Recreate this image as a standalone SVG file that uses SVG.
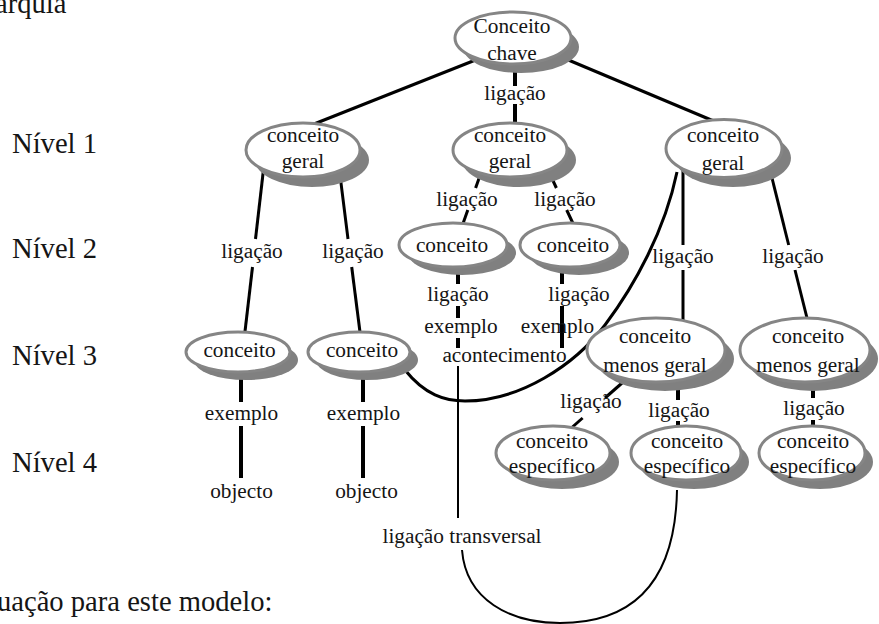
<svg xmlns="http://www.w3.org/2000/svg" width="879" height="624" viewBox="0 0 879 624" font-family="'Liberation Serif', 'Times New Roman', serif">
  <defs>
    <style>
      text { font-family: "Liberation Serif", "Times New Roman", serif; fill: #151515; }
      .node { font-size: 21.3px; text-anchor: middle; }
      .lbl { font-size: 21.3px; text-anchor: middle; }
      .lvl { font-size: 28.6px; }
      .shadow { fill: #808080; }
      .shape { fill: #ffffff; stroke: #858585; stroke-width: 3; }
      .edge { stroke: #000; stroke-width: 3; fill: none; stroke-linecap: butt; }
      .thick { stroke-width: 4; }
      .cross { stroke: #000; stroke-width: 3; fill: none; }
      .thin { stroke-width: 2; }
    </style>
  </defs>
  <rect width="879" height="624" fill="#ffffff"/>

  <!-- page text around the figure -->
  <text class="lvl" x="-5" y="13">arquia</text>
  <text class="lvl" x="-3" y="611">uação para este modelo:</text>

  <!-- hierarchy levels -->
  <g id="levels">
    <text class="lvl" x="12" y="153">Nível 1</text>
    <text class="lvl" x="12" y="258">Nível 2</text>
    <text class="lvl" x="12" y="365">Nível 3</text>
    <text class="lvl" x="12" y="472">Nível 4</text>
  </g>

  <!-- connectors (drawn beneath the nodes) -->
  <g id="connectors">
    <!-- key concept to level 1 -->
    <line class="edge" x1="478" y1="59" x2="314" y2="124"/>
    <line class="edge" x1="566" y1="59" x2="716" y2="122"/>
    <line class="edge thick" x1="515" y1="60" x2="515" y2="86"/>
    <line class="edge thick" x1="515" y1="104" x2="515" y2="130"/>

    <!-- left general concept -->
    <line class="edge" x1="264" y1="165" x2="255.5" y2="239"/>
    <line class="edge" x1="252.5" y1="267" x2="244" y2="340"/>
    <line class="edge" x1="340" y1="175" x2="348" y2="239"/>
    <line class="edge" x1="351.7" y1="267" x2="361" y2="340"/>

    <!-- middle general concept -->
    <line class="edge" x1="482" y1="170" x2="475.6" y2="188"/>
    <line class="edge" x1="467.8" y1="210" x2="460" y2="232"/>
    <line class="edge" x1="548" y1="170" x2="556.4" y2="188"/>
    <line class="edge" x1="566.7" y1="210" x2="577" y2="232"/>

    <!-- right general concept -->
    <line class="edge" x1="683" y1="165" x2="683" y2="245"/>
    <line class="edge" x1="683" y1="270" x2="683" y2="330"/>
    <line class="edge" x1="770" y1="170" x2="788.7" y2="245"/>
    <line class="edge" x1="795" y1="270" x2="810" y2="330"/>

    <!-- level 2 concepts -->
    <line class="edge thick" x1="458" y1="260" x2="458" y2="284"/>
    <line class="edge thick" x1="458" y1="306" x2="458" y2="318"/>
    <line class="edge thick" x1="458" y1="338" x2="458" y2="348"/>
    <line class="edge thin" x1="458" y1="366" x2="458" y2="518"/>
    <line class="edge thick" x1="562" y1="260" x2="562" y2="284"/>
    <line class="edge thick" x1="562" y1="306" x2="562" y2="348"/>

    <!-- level 3 left concepts -->
    <line class="edge thick" x1="241" y1="370" x2="241" y2="402"/>
    <line class="edge thick" x1="241" y1="426" x2="241" y2="478"/>
    <line class="edge thick" x1="363" y1="370" x2="363" y2="402"/>
    <line class="edge thick" x1="363" y1="426" x2="363" y2="478"/>

    <!-- level 3 right concepts -->
    <line class="edge" x1="630" y1="376" x2="605" y2="398"/>
    <line class="edge" x1="582.6" y1="418" x2="560" y2="438"/>
    <line class="edge thick" x1="678" y1="375" x2="678" y2="400"/>
    <line class="edge thick" x1="678" y1="421" x2="678" y2="440"/>
    <line class="edge thick" x1="813" y1="375" x2="813" y2="398"/>
    <line class="edge thick" x1="813" y1="420" x2="813" y2="440"/>

    <!-- cross links -->
    <path class="cross" d="M405,370 C425,395 445,401 465,401 C520,401 575,365 605,325 C635,285 665,230 677,172"/>
    <path class="cross thin" d="M462,550 C466,600 510,623 560,623 C615,623 675,600 677,490"/>
  </g>

  <!-- connector labels -->
  <g id="labels">
    <text class="lbl" x="515" y="100">ligação</text>
    <text class="lbl" x="252" y="258">ligação</text>
    <text class="lbl" x="353" y="258">ligação</text>
    <text class="lbl" x="467" y="206">ligação</text>
    <text class="lbl" x="565" y="206">ligação</text>
    <text class="lbl" x="683" y="263">ligação</text>
    <text class="lbl" x="793" y="263">ligação</text>
    <text class="lbl" x="458" y="301">ligação</text>
    <text class="lbl" x="461" y="333">exemplo</text>
    <text class="lbl" x="504.5" y="362">acontecimento</text>
    <text class="lbl" x="579" y="301">ligação</text>
    <text class="lbl" x="557.5" y="333">exemplo</text>
    <text class="lbl" x="241.5" y="420">exemplo</text>
    <text class="lbl" x="363.5" y="420">exemplo</text>
    <text class="lbl" x="241.5" y="498">objecto</text>
    <text class="lbl" x="366.5" y="498">objecto</text>
    <text class="lbl" x="591" y="408">ligação</text>
    <text class="lbl" x="679" y="417">ligação</text>
    <text class="lbl" x="814" y="415">ligação</text>
    <text class="lbl" x="462" y="543">ligação transversal</text>
  </g>

  <!-- nodes -->
  <g id="n-root">
    <ellipse class="shadow" cx="521" cy="47" rx="58" ry="26"/>
    <ellipse class="shape" cx="513" cy="38" rx="58" ry="26"/>
    <text class="node" x="512" y="33">Conceito</text>
    <text class="node" x="512" y="60">chave</text>
  </g>

  <g id="n-geral-left">
    <ellipse class="shadow" cx="312" cy="160" rx="57" ry="27"/>
    <ellipse class="shape" cx="303" cy="150" rx="57" ry="27"/>
    <text class="node" x="303" y="142">conceito</text>
    <text class="node" x="303" y="168">geral</text>
  </g>

  <g id="n-geral-mid">
    <ellipse class="shadow" cx="519" cy="160" rx="57" ry="27"/>
    <ellipse class="shape" cx="510" cy="150" rx="57" ry="27"/>
    <text class="node" x="510" y="142">conceito</text>
    <text class="node" x="510" y="168">geral</text>
  </g>

  <g id="n-geral-right">
    <ellipse class="shadow" cx="733" cy="158" rx="58" ry="29"/>
    <ellipse class="shape" cx="724" cy="148.5" rx="58" ry="29"/>
    <text class="node" x="723" y="142">conceito</text>
    <text class="node" x="723" y="170">geral</text>
  </g>

  <g id="n-l2-a">
    <ellipse class="shadow" cx="462" cy="253" rx="54" ry="22"/>
    <ellipse class="shape" cx="453" cy="245" rx="54" ry="22"/>
    <text class="node" x="452" y="252">conceito</text>
  </g>

  <g id="n-l2-b">
    <ellipse class="shadow" cx="579" cy="253" rx="50" ry="22"/>
    <ellipse class="shape" cx="570" cy="245" rx="50" ry="22"/>
    <text class="node" x="573" y="252">conceito</text>
  </g>

  <g id="n-l3-a">
    <ellipse class="shadow" cx="246" cy="360" rx="52" ry="20"/>
    <ellipse class="shape" cx="238" cy="352" rx="52" ry="20"/>
    <text class="node" x="239.5" y="357">conceito</text>
  </g>

  <g id="n-l3-b">
    <ellipse class="shadow" cx="367" cy="360" rx="51" ry="20"/>
    <ellipse class="shape" cx="359" cy="352" rx="51" ry="20"/>
    <text class="node" x="362" y="357">conceito</text>
  </g>

  <g id="n-menos-a">
    <ellipse class="shadow" cx="665" cy="359" rx="69" ry="32"/>
    <ellipse class="shape" cx="656" cy="350" rx="69" ry="32"/>
    <text class="node" x="655" y="343">conceito</text>
    <text class="node" x="655" y="372">menos geral</text>
  </g>

  <g id="n-menos-b">
    <ellipse class="shadow" cx="813" cy="359" rx="65" ry="32"/>
    <ellipse class="shape" cx="805" cy="350" rx="65" ry="32"/>
    <text class="node" x="808" y="343">conceito</text>
    <text class="node" x="808" y="372">menos geral</text>
  </g>

  <g id="n-espec-a">
    <ellipse class="shadow" cx="562" cy="462" rx="57" ry="27"/>
    <ellipse class="shape" cx="553" cy="453" rx="57" ry="27"/>
    <text class="node" x="552" y="448">conceito</text>
    <text class="node" x="552" y="473">específico</text>
  </g>

  <g id="n-espec-b">
    <ellipse class="shadow" cx="694" cy="462" rx="55" ry="27"/>
    <ellipse class="shape" cx="686" cy="453" rx="55" ry="27"/>
    <text class="node" x="687" y="448">conceito</text>
    <text class="node" x="687" y="473">específico</text>
  </g>

  <g id="n-espec-c">
    <ellipse class="shadow" cx="820" cy="462" rx="53" ry="27"/>
    <ellipse class="shape" cx="812" cy="453" rx="53" ry="27"/>
    <text class="node" x="813" y="448">conceito</text>
    <text class="node" x="813" y="473">específico</text>
  </g>
</svg>
